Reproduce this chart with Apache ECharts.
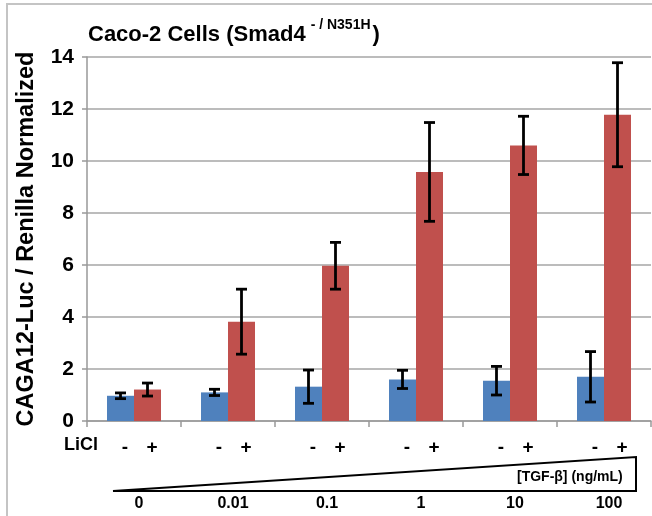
<!DOCTYPE html>
<html>
<head>
<meta charset="utf-8">
<script src="https://cdn.jsdelivr.net/npm/echarts@6/dist/echarts.min.js"></script>
<style>html,body{margin:0;padding:0;background:#fff}#c{width:652px;height:516px}</style>
</head>
<body>
<div id="c"></div>
<script>
const categories = ['0', '0.01', '0.1', '1', '10', '100'];
const yTicks = [0, 2, 4, 6, 8, 10, 12, 14];
const minusValues = [0.97, 1.1, 1.32, 1.6, 1.55, 1.7];
const minusErrors = [0.11, 0.12, 0.64, 0.35, 0.55, 0.97];
const plusValues = [1.21, 3.82, 5.97, 9.58, 10.6, 11.78];
const plusErrors = [0.25, 1.25, 0.9, 1.9, 1.12, 2.0];

const FONT = '"Liberation Sans", Arial, sans-serif';
const BAR_W = 27;

function errSeries(vals, errs, offset) {
  return {
    type: 'custom',
    z: 10,
    xAxisIndex: 0,
    encode: { x: 0, y: 1 },
    data: vals.map((v, i) => [i, v, errs[i]]),
    renderItem: function (params, api) {
      const i = api.value(0), v = api.value(1), e = api.value(2);
      const cx = api.coord([i, v])[0] + offset;
      const yt = api.coord([i, v + e])[1];
      const yb = api.coord([i, v - e])[1];
      const st = { stroke: '#000', lineWidth: 2.8 };
      return {
        type: 'group',
        children: [
          { type: 'line', shape: { x1: cx, y1: yt, x2: cx, y2: yb }, style: st },
          { type: 'line', shape: { x1: cx - 5.5, y1: yt, x2: cx + 5.5, y2: yt }, style: st },
          { type: 'line', shape: { x1: cx - 5.5, y1: yb, x2: cx + 5.5, y2: yb }, style: st }
        ]
      };
    }
  };
}

const chart = echarts.init(document.getElementById('c'), null, { renderer: 'canvas' });
chart.setOption({
  animation: false,
  textStyle: { fontFamily: FONT },
  title: {
    left: 83, top: 11,
    text: '{a|Caco-2 Cells (Smad4}{s|- / N351H}{a|)}',
    textStyle: {
      rich: {
        a: { fontFamily: FONT, fontWeight: 'bold', fontSize: 22, color: '#000', lineHeight: 30, verticalAlign: 'bottom' },
        s: { fontFamily: FONT, fontWeight: 'bold', fontSize: 14, color: '#000', verticalAlign: 'top', padding: [2, 2, 0, 5] }
      }
    }
  },
  grid: { left: 87, right: 1, top: 57, bottom: 95, outerBoundsMode: 'none', containLabel: false },
  xAxis: [
    {
      type: 'category', data: categories,
      axisLine: { lineStyle: { color: '#999', width: 1.5 } },
      axisTick: { show: true, length: 6, lineStyle: { color: '#999', width: 1.5 } },
      axisLabel: {
        margin: 17,
        formatter: function () { return '{m|-}{p|+}'; },
        rich: {
          m: { width: BAR_W, align: 'center', fontFamily: FONT, fontWeight: 'bold', fontSize: 19, color: '#000', padding: [0, 0, 0, 9] },
          p: { width: BAR_W, align: 'center', fontFamily: FONT, fontWeight: 'bold', fontSize: 19, color: '#000' }
        }
      }
    },
    {
      type: 'category', data: categories, position: 'bottom', offset: 67,
      axisLine: { show: false }, axisTick: { show: false },
      axisLabel: { fontFamily: FONT, fontWeight: 'bold', fontSize: 16, color: '#000', padding: [0, 0, 0, 10] }
    }
  ],
  yAxis: {
    type: 'value', min: yTicks[0], max: yTicks[yTicks.length - 1], interval: 2,
    name: 'CAGA12-Luc / Renilla Normalized',
    nameLocation: 'middle', nameGap: 48,
    nameTextStyle: { fontFamily: FONT, fontWeight: 'bold', fontSize: 23.5, color: '#000' },
    axisLine: { show: true, lineStyle: { color: '#999', width: 1.5 } },
    axisTick: { show: true, length: 5, lineStyle: { color: '#999', width: 1.5 } },
    axisLabel: { fontFamily: FONT, fontWeight: 'bold', fontSize: 21, color: '#000', margin: 13 },
    splitLine: { lineStyle: { color: '#a6a6a6', width: 1.5 } }
  },
  series: [
    { name: 'LiCl -', type: 'bar', data: minusValues, barWidth: BAR_W, barGap: '0%', itemStyle: { color: '#4F81BD' } },
    { name: 'LiCl +', type: 'bar', data: plusValues, barWidth: BAR_W, barGap: '0%', itemStyle: { color: '#C0504D' } },
    errSeries(minusValues, minusErrors, -BAR_W / 2),
    errSeries(plusValues, plusErrors, BAR_W / 2)
  ],
  graphic: [
    { type: 'polyline', shape: { points: [[7, 516], [7, 4], [652, 4]] }, style: { stroke: '#c4c4c4', lineWidth: 2, fill: null } },
    { type: 'polygon', shape: { points: [[113, 491], [636, 457], [636, 491]] }, style: { fill: '#fff', stroke: '#000', lineWidth: 2 } },
    { type: 'text', left: 517, top: 470, style: { text: '[TGF-β] (ng/mL)', font: 'bold 14px ' + FONT, fill: '#000' } },
    { type: 'text', left: 64, top: 436, style: { text: 'LiCl', font: 'bold 18px ' + FONT, fill: '#000' } }
  ]
});
</script>
</body>
</html>
